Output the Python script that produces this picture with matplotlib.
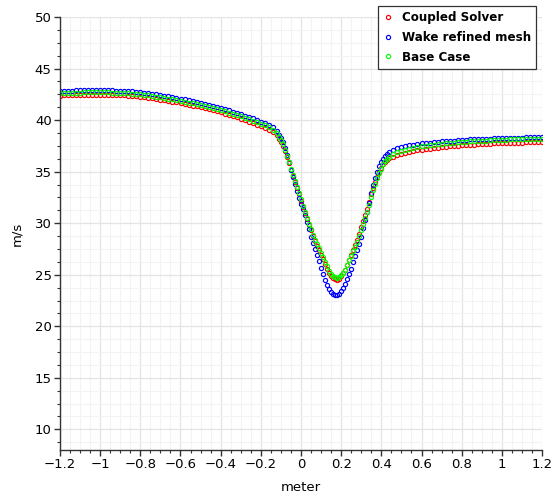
import matplotlib
matplotlib.use("Agg")
import matplotlib.pyplot as plt
from matplotlib.ticker import MultipleLocator, FuncFormatter

# probe stations along the line (m)
x_left = [-1.20, -1.18, -1.16, -1.14, -1.12, -1.10, -1.08, -1.06, -1.04, -1.02,
          -1.00, -0.98, -0.96, -0.94, -0.92, -0.90, -0.88, -0.86, -0.84, -0.82,
          -0.80, -0.78, -0.76, -0.74, -0.72, -0.70, -0.68, -0.66, -0.64, -0.62,
          -0.60, -0.58, -0.56, -0.54, -0.52, -0.50, -0.48, -0.46, -0.44, -0.42,
          -0.40, -0.38, -0.36, -0.34, -0.32, -0.30, -0.28, -0.26, -0.24, -0.22,
          -0.20, -0.18, -0.16, -0.14, -0.12]
x_wake = [-0.11, -0.10, -0.09, -0.08, -0.07, -0.06, -0.05, -0.04, -0.03, -0.02,
          -0.01, 0.00, 0.01, 0.02, 0.03, 0.04, 0.05, 0.06, 0.07, 0.08,
          0.09, 0.10, 0.11, 0.12, 0.13, 0.14, 0.15, 0.16, 0.17, 0.18,
          0.19, 0.20, 0.21, 0.22, 0.23, 0.24, 0.25, 0.26, 0.27, 0.28,
          0.29, 0.30, 0.31, 0.32, 0.33, 0.34, 0.35, 0.36, 0.37, 0.38,
          0.39, 0.40, 0.41, 0.42, 0.43, 0.44]
x_right = [0.46, 0.48, 0.50, 0.52, 0.54, 0.56, 0.58, 0.60, 0.62, 0.64,
           0.66, 0.68, 0.70, 0.72, 0.74, 0.76, 0.78, 0.80, 0.82, 0.84,
           0.86, 0.88, 0.90, 0.92, 0.94, 0.96, 0.98, 1.00, 1.02, 1.04,
           1.06, 1.08, 1.10, 1.12, 1.14, 1.16, 1.18, 1.20]

# velocity magnitude (m/s), Coupled Solver
coupled_left = [42.38, 42.40, 42.41, 42.43, 42.44, 42.45, 42.46, 42.47, 42.48, 42.48,
                42.48, 42.47, 42.46, 42.45, 42.43, 42.41, 42.39, 42.37, 42.34, 42.31,
                42.28, 42.23, 42.18, 42.12, 42.06, 41.99, 41.92, 41.85, 41.78, 41.71,
                41.64, 41.56, 41.48, 41.40, 41.32, 41.24, 41.15, 41.05, 40.95, 40.85,
                40.74, 40.63, 40.51, 40.39, 40.26, 40.13, 40.00, 39.86, 39.72, 39.57,
                39.42, 39.26, 39.08, 38.86, 38.52]
coupled_wake = [38.2, 37.9, 37.5, 37.0, 36.4, 35.8, 35.2, 34.6, 34.0, 33.4,
                32.8, 32.2, 31.6, 31.0, 30.4, 29.8, 29.3, 28.8, 28.3, 27.8,
                27.4, 26.9, 26.5, 26.0, 25.6, 25.2, 24.9, 24.7, 24.55, 24.5,
                24.6, 24.85, 25.15, 25.5, 25.95, 26.4, 26.9, 27.4, 27.9, 28.4,
                29.0, 29.6, 30.2, 30.8, 31.4, 32.1, 32.8, 33.4, 34.0, 34.5,
                35.0, 35.4, 35.7, 35.95, 36.15, 36.3]
coupled_right = [36.45, 36.60, 36.72, 36.82, 36.91, 36.99, 37.06, 37.12, 37.18, 37.23,
                 37.28, 37.32, 37.36, 37.40, 37.44, 37.47, 37.51, 37.54, 37.57, 37.60,
                 37.62, 37.65, 37.67, 37.69, 37.71, 37.73, 37.75, 37.76, 37.78, 37.79,
                 37.80, 37.81, 37.82, 37.83, 37.84, 37.85, 37.86, 37.87]

# Wake refined mesh
wake_left = [42.82, 42.84, 42.85, 42.87, 42.88, 42.89, 42.90, 42.91, 42.92, 42.92,
             42.92, 42.91, 42.90, 42.89, 42.87, 42.85, 42.83, 42.81, 42.78, 42.75,
             42.72, 42.67, 42.62, 42.56, 42.50, 42.43, 42.36, 42.29, 42.22, 42.15,
             42.08, 42.00, 41.92, 41.84, 41.76, 41.68, 41.59, 41.49, 41.39, 41.29,
             41.18, 41.07, 40.95, 40.83, 40.70, 40.57, 40.44, 40.30, 40.16, 40.01,
             39.86, 39.70, 39.52, 39.30, 38.98]
wake_wake = [38.6, 38.3, 37.9, 37.3, 36.6, 35.9, 35.2, 34.5, 33.8, 33.1,
             32.4, 31.9, 31.4, 30.8, 30.1, 29.4, 28.7, 28.1, 27.5, 26.9,
             26.3, 25.7, 25.1, 24.5, 24.0, 23.6, 23.35, 23.15, 23.0, 23.0,
             23.1, 23.4, 23.7, 24.1, 24.6, 25.1, 25.6, 26.2, 26.8, 27.4,
             28.0, 28.7, 29.5, 30.3, 31.1, 32.0, 32.9, 33.7, 34.4, 35.0,
             35.5, 35.9, 36.2, 36.5, 36.7, 36.9]
wake_right = [37.10, 37.25, 37.37, 37.47, 37.55, 37.62, 37.68, 37.73, 37.78, 37.82,
              37.86, 37.90, 37.93, 37.96, 37.99, 38.02, 38.05, 38.07, 38.10, 38.12,
              38.14, 38.16, 38.18, 38.20, 38.21, 38.23, 38.24, 38.26, 38.27, 38.28,
              38.29, 38.30, 38.31, 38.32, 38.33, 38.33, 38.34, 38.35]

# Base Case
base_left = [42.60, 42.62, 42.63, 42.65, 42.66, 42.67, 42.68, 42.69, 42.70, 42.70,
             42.70, 42.69, 42.68, 42.67, 42.65, 42.63, 42.61, 42.59, 42.56, 42.53,
             42.50, 42.45, 42.40, 42.34, 42.28, 42.21, 42.14, 42.07, 42.00, 41.93,
             41.86, 41.78, 41.70, 41.62, 41.54, 41.46, 41.37, 41.27, 41.17, 41.07,
             40.96, 40.85, 40.73, 40.61, 40.48, 40.35, 40.22, 40.08, 39.94, 39.79,
             39.64, 39.48, 39.30, 39.08, 38.75]
base_wake = [38.4, 38.1, 37.7, 37.1, 36.5, 35.9, 35.3, 34.7, 34.1, 33.5,
             32.9, 32.3, 31.7, 31.1, 30.5, 29.9, 29.4, 28.9, 28.4, 28.0,
             27.6, 27.1, 26.7, 26.2, 25.8, 25.4, 25.1, 24.9, 24.75, 24.7,
             24.8, 25.0, 25.2, 25.5, 25.9, 26.4, 26.8, 27.3, 27.7, 28.2,
             28.8, 29.3, 29.9, 30.5, 31.1, 31.8, 32.5, 33.2, 33.8, 34.4,
             34.9, 35.3, 35.7, 36.0, 36.2, 36.4]
base_right = [36.70, 36.88, 37.02, 37.14, 37.24, 37.32, 37.39, 37.45, 37.51, 37.56,
              37.61, 37.65, 37.69, 37.73, 37.77, 37.80, 37.84, 37.87, 37.90, 37.93,
              37.95, 37.98, 38.00, 38.02, 38.04, 38.06, 38.08, 38.09, 38.11, 38.12,
              38.13, 38.14, 38.15, 38.16, 38.17, 38.18, 38.18, 38.19]

x = x_left + x_wake + x_right
series = [
    ("Coupled Solver", coupled_left + coupled_wake + coupled_right, "#ff0000"),
    ("Wake refined mesh", wake_left + wake_wake + wake_right, "#0000ff"),
    ("Base Case", base_left + base_wake + base_right, "#00ff00"),
]

fig = plt.figure(figsize=(5.58, 4.99), dpi=100)
ax = fig.add_axes([60 / 558, 1 - 450 / 499, 482 / 558, 433 / 499])

for label, y, color in series:
    ax.plot(x, y, "o", linestyle="none", ms=3.0, mew=0.85,
            mfc="none", mec=color, label=label)

ax.set_xlim(-1.2, 1.2)
ax.set_ylim(8, 50)
ax.xaxis.set_major_locator(MultipleLocator(0.2))
ax.xaxis.set_minor_locator(MultipleLocator(0.05))
ax.yaxis.set_major_locator(MultipleLocator(5))
ax.yaxis.set_minor_locator(MultipleLocator(1.25))
ax.xaxis.set_major_formatter(FuncFormatter(lambda v, p: ("%g" % round(v, 2)).replace("-", "\u2212")))
ax.yaxis.set_major_formatter(FuncFormatter(lambda v, p: "%g" % v))

ax.grid(which="major", color="#e4e4e4", linewidth=0.9)
ax.grid(which="minor", color="#f3f3f3", linewidth=0.8)
ax.set_axisbelow(True)

for side in ("top", "right"):
    ax.spines[side].set_visible(False)
for side in ("left", "bottom"):
    ax.spines[side].set_color("#333333")
    ax.spines[side].set_linewidth(1.0)
ax.tick_params(which="major", length=4, width=1, color="#333333", labelsize=9.5, pad=2)
ax.tick_params(which="minor", length=2, width=0.8, color="#333333")

ax.set_xlabel("meter", fontsize=9.5, labelpad=7)
ax.set_ylabel("m/s", fontsize=9.5, labelpad=8)

leg = ax.legend(loc="upper right", bbox_to_anchor=(536 / 558, 1 - 6 / 499),
                bbox_transform=fig.transFigure, borderaxespad=0,
                frameon=True, fancybox=False,
                handlelength=0.8, handletextpad=0.7, borderpad=0.45,
                labelspacing=0.55, prop={"weight": "bold", "size": 8.6})
leg.get_frame().set_edgecolor("#333333")
leg.get_frame().set_linewidth(0.9)
leg.get_frame().set_alpha(1)

fig.savefig("out.png", dpi=100)
